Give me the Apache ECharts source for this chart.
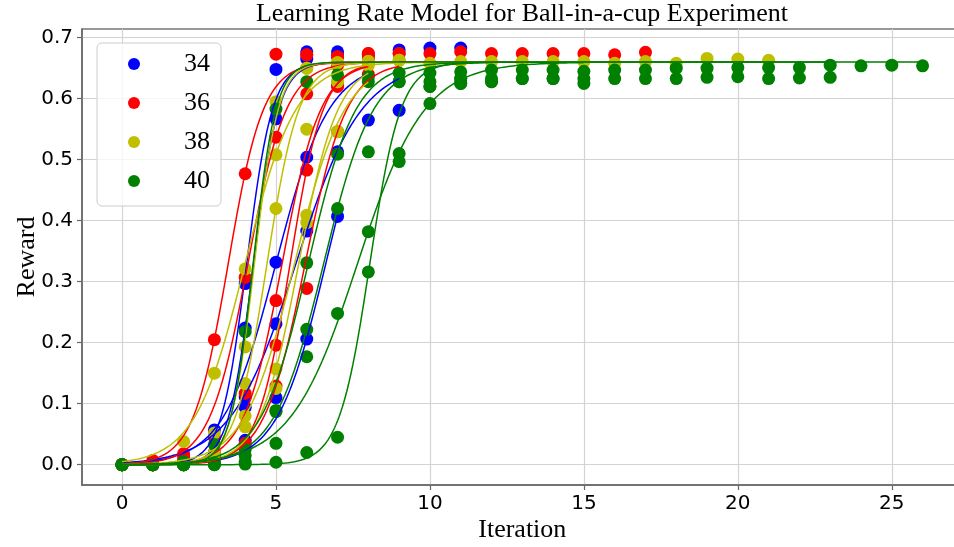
<!DOCTYPE html>
<html><head><meta charset="utf-8">
<script src="https://cdn.jsdelivr.net/npm/echarts@6/dist/echarts.min.js"></script>
<style>html,body{margin:0;padding:0;background:#fff}#c{width:954px;height:547px}</style>
</head><body><div id="c"></div>
<script>
// ---- data ----
const titleText = 'Learning Rate Model for Ball-in-a-cup Experiment';
const groupNames = ['34', '36', '38', '40'];
const xTicks = [0, 5, 10, 15, 20, 25];
const yTicks = [0, 0.1, 0.2, 0.3, 0.4, 0.5, 0.6, 0.7];

// reward per iteration (index = iteration), one array per run
const blueRuns = [
  [0,0,0.005,0.057,0.297,0.648,0.677,0.677,0.672,0.680,0.683,0.683],
  [0,0,0.002,0.015,0.224,0.567,0.665,0.670],
  [0,0,0.003,0.020,0.111,0.332,0.504,0.622,0.660],
  [0,0,0,0.008,0.094,0.231,0.383,0.513,0.565,0.581],
  [0,0,0,0.004,0.040,0.110,0.206,0.407]
];
const redRuns = [
  [0,0.007,0.018,0.205,0.477,0.673,0.672,0.669,0.674,0.674,0.674,0.677,0.674,0.674,0.674,0.674,0.672,0.676],
  [0,0,0.012,0.045,0.307,0.537,0.672,0.669,0.674],
  [0,0,0.004,0.020,0.117,0.269,0.608,0.655,0.670],
  [0,0,0,0.004,0.035,0.129,0.289,0.546,0.640,0.674],
  [0,0,0.002,0.010,0.030,0.196,0.483,0.620,0.665]
];
const yellowRuns = [
  [0,0,0.038,0.150,0.321,0.508,0.650,0.659,0.661,0.663,0.658,0.661,0.661,0.661,0.661,0.661,0.658,0.661,0.658,0.666,0.665,0.663],
  [0,0,0,0.052,0.193,0.595,0.650,0.659,0.661],
  [0,0,0.002,0.020,0.133,0.420,0.550,0.628,0.661,0.663],
  [0,0,0,0.008,0.080,0.125,0.409,0.546,0.655],
  [0,0,0,0.005,0.062,0.157,0.397,0.628,0.658]
];
const greenRuns = [
  [0,0,0.005,0.033,0.218,0.583,0.628,0.639,0.636,0.642,0.642,0.644,0.647,0.647,0.647,0.645,0.647,0.647,0.650,0.650,0.651,0.651,0.651,0.655,0.654,0.655,0.654],
  [0,0,0,0.003,0.025,0.089,0.331,0.509,0.628,0.628,0.628,0.633,0.633,0.633,0.633,0.633,0.633,0.633,0.633,0.635,0.636,0.633,0.634,0.635],
  [0,0,0,0.001,0.015,0.087,0.222,0.420,0.513,0.628,0.620,0.625,0.628],
  [0,0,0,0,0.005,0.035,0.177,0.248,0.382,0.497,0.592,0.625,0.628,0.633,0.633,0.625],
  [0,0,0,0,0.001,0.004,0.020,0.045,0.316,0.510,0.620,0.633]
];

// fitted learning-rate (logistic) model parameters per run
const fitTop = 0.66;
const blueK = [2.4, 2.47, 1.17, 0.94, 1.265];
const blueX0 = [4.05, 4.27, 5.0, 5.65, 6.62];
const redK = [1.76, 1.61, 1.6, 1.49, 1.87];
const redX0 = [3.45, 4.09, 5.2, 5.95, 5.46];
const yellowK = [1.22, 2.6, 1.94, 1.234, 1.575];
const yellowX0 = [4.0, 4.3, 4.71, 5.605, 5.74];
const greenK = [2.73, 1.3, 1.24, 0.92, 2.0];
const greenX0 = [4.26, 6.05, 6.55, 7.65, 8.05];

// ---- styling ----
const colors = ['#0000ff', '#ff0000', '#bfbf00', '#008000'];
const groups = [
  {runs: blueRuns, k: blueK, x0: blueX0},
  {runs: redRuns, k: redK, x0: redX0},
  {runs: yellowRuns, k: yellowK, x0: yellowX0},
  {runs: greenRuns, k: greenK, x0: greenX0}
];

const series = [];
groups.forEach((g, gi) => {
  g.runs.forEach((run, i) => {
    const last = run.length - 1;
    const curve = [];
    for (let j = 0; j <= last * 20; j++) {
      const x = j / 20;
      curve.push([x, fitTop / (1 + Math.exp(-g.k[i] * (x - g.x0[i])))]);
    }
    series.push({
      type: 'line', name: groupNames[gi] + ' fit', data: curve,
      symbol: 'none', showSymbol: false, silent: true, animation: false,
      lineStyle: {color: colors[gi], width: 1.5}, itemStyle: {color: colors[gi]}
    });
    series.push({
      type: 'scatter', name: groupNames[gi], data: run.map((v, x) => [x, v]),
      symbol: 'circle', symbolSize: 13, animation: false,
      itemStyle: {color: colors[gi], opacity: 1}
    });
  });
});

const chart = echarts.init(document.getElementById('c'), null, {renderer: 'canvas'});
chart.setOption({
  backgroundColor: '#ffffff',
  animation: false,
  title: {
    text: titleText, left: 522, top: 1, textAlign: 'center', padding: 0,
    textStyle: {fontFamily: 'Liberation Serif', fontSize: 26, fontWeight: 'normal', color: '#000'}
  },
  legend: {
    data: groupNames, orient: 'vertical', left: 97, top: 43,
    icon: 'circle', itemWidth: 12, itemHeight: 12, itemGap: 9,
    padding: [6, 11, 10, 31], selectedMode: false,
    backgroundColor: 'rgba(255,255,255,0.8)', borderColor: '#cccccc', borderWidth: 1, borderRadius: 5,
    textStyle: {fontFamily: 'Liberation Serif', fontSize: 26, color: '#000', lineHeight: 30, padding: [0, 0, 0, 39]}
  },
  grid: {left: 82, top: 29, bottom: 62, right: -8.6, outerBoundsMode: 'none', show: true, borderColor: '#777', borderWidth: 1.5, backgroundColor: 'transparent', containLabel: false},
  xAxis: {
    type: 'value', min: -1.3, max: 27.3,
    axisLine: {show: true, onZero: false, lineStyle: {color: '#666', width: 1.5}},
    axisTick: {show: true, customValues: xTicks, length: 5, lineStyle: {color: '#666', width: 1.2}},
    axisLabel: {customValues: xTicks, fontFamily: 'DejaVu Sans', fontSize: 20, color: '#000', margin: 9, formatter: v => String(v)},
    splitLine: {show: true, lineStyle: {color: '#d3d3d3', width: 1.2}},
    name: 'Iteration', nameLocation: 'middle', nameGap: 32, nameMoveOverlap: false,
    nameTextStyle: {fontFamily: 'Liberation Serif', fontSize: 26, color: '#000'}
  },
  yAxis: {
    type: 'value', min: -0.0333, max: 0.7143,
    axisLine: {show: true, onZero: false, lineStyle: {color: '#666', width: 1.5}},
    axisTick: {show: true, customValues: yTicks, length: 5, lineStyle: {color: '#666', width: 1.2}},
    axisLabel: {customValues: yTicks, fontFamily: 'DejaVu Sans', fontSize: 20, color: '#000', margin: 9, formatter: v => v.toFixed(1)},
    splitLine: {show: true, lineStyle: {color: '#d3d3d3', width: 1.2}},
    name: 'Reward', nameLocation: 'middle', nameGap: 42, nameRotate: 90, nameMoveOverlap: false,
    nameTextStyle: {fontFamily: 'Liberation Serif', fontSize: 26, color: '#000'}
  },
  series: series
});
</script>
</body></html>
